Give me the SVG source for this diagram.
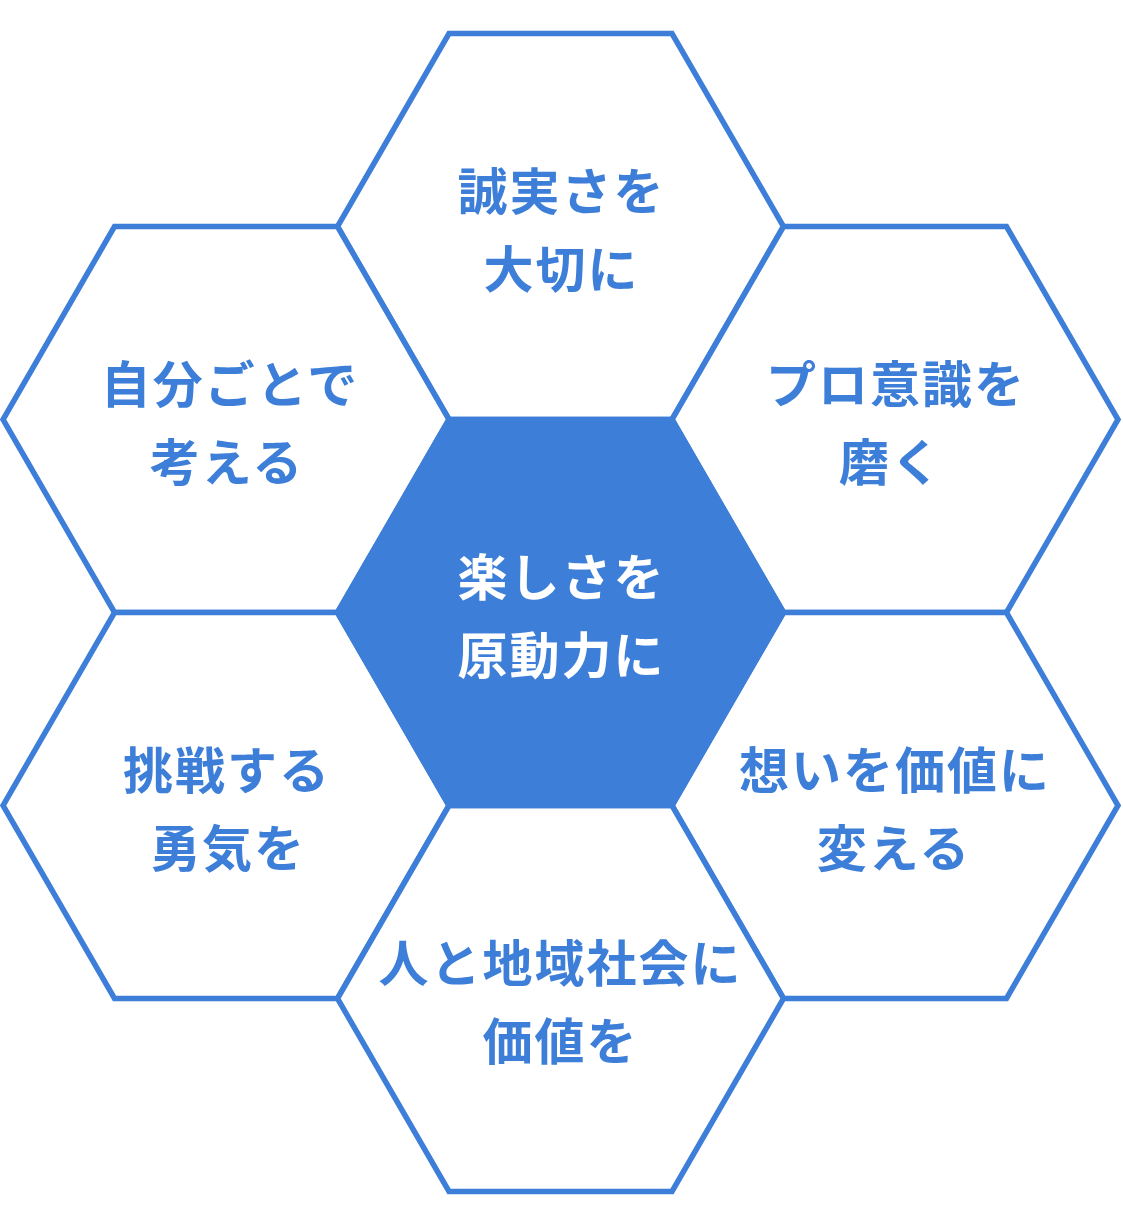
<svg xmlns="http://www.w3.org/2000/svg" width="1123" height="1226" viewBox="0 0 1123 1226">
  <style>
    .hex { fill: #ffffff; stroke: #3d7ed8; stroke-width: 5.5; stroke-linejoin: miter; }
    .hex-core { fill: #3d7ed8; stroke: #3d7ed8; stroke-width: 5.5; }
    .lbl { font-family: "Noto Sans CJK JP", "Noto Sans CJK SC", sans-serif; font-size: 50px; font-weight: 700; letter-spacing: 2px; text-anchor: middle; dominant-baseline: central; fill: #3d7ed8; }
    .lbl-core { fill: #ffffff; }
  </style>
  <defs>
    <polygon id="hexshape" points="-111.5,-193 111.5,-193 223,0 111.5,193 -111.5,193 -223,0"/>
  </defs>
  <rect width="1123" height="1226" fill="#ffffff"/>
  <g id="connectors"></g>

  <g id="node-top" transform="translate(560.5,226.5)">
    <use href="#hexshape" class="hex"/>
    <text class="lbl" x="1" y="-38.5">誠実さを</text>
    <text class="lbl" x="1" y="39">大切に</text>
  </g>

  <g id="node-upper-left" transform="translate(226,419.5)">
    <use href="#hexshape" class="hex"/>
    <text class="lbl" x="4" y="-38.5">自分ごとで</text>
    <text class="lbl" x="1" y="39">考える</text>
  </g>

  <g id="node-upper-right" transform="translate(895,419.5)">
    <use href="#hexshape" class="hex"/>
    <text class="lbl" x="1" y="-38.5">プロ意識を</text>
    <text class="lbl" x="-4" y="39">磨く</text>
  </g>

  <g id="node-lower-left" transform="translate(226,805.5)">
    <use href="#hexshape" class="hex"/>
    <text class="lbl" x="1" y="-38.5">挑戦する</text>
    <text class="lbl" x="2" y="39">勇気を</text>
  </g>

  <g id="node-lower-right" transform="translate(895,805.5)">
    <use href="#hexshape" class="hex"/>
    <text class="lbl" x="0" y="-38.5">想いを価値に</text>
    <text class="lbl" x="-1" y="39">変える</text>
  </g>

  <g id="node-bottom" transform="translate(560.5,998.5)">
    <use href="#hexshape" class="hex"/>
    <text class="lbl" x="0" y="-38.5">人と地域社会に</text>
    <text class="lbl" x="0" y="39">価値を</text>
  </g>

  <g id="node-center" transform="translate(560.5,612.5)">
    <use href="#hexshape" class="hex-core"/>
    <text class="lbl lbl-core" x="1" y="-38.5">楽しさを</text>
    <text class="lbl lbl-core" x="1" y="39">原動力に</text>
  </g>
</svg>
